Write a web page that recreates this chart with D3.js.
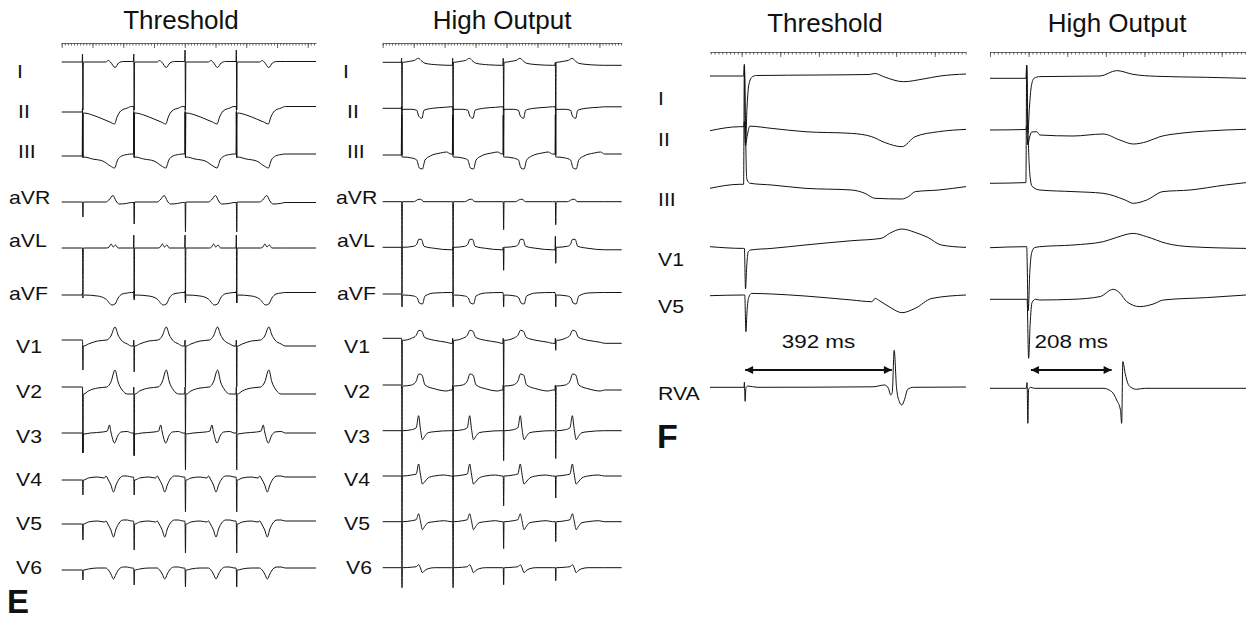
<!DOCTYPE html>
<html>
<head>
<meta charset="utf-8">
<script src="https://cdn.jsdelivr.net/npm/d3@7"></script>
<style>
    body { margin: 0; background: #fff; }
    text { font-family: "Liberation Sans", Arial, sans-serif; fill: #111; }
</style>
</head>
<body>
<svg id="fig" width="1246" height="620"></svg>
<script>
// ---------- data (time in ms, amplitude in mm at 10 mm/mV) ----------

var eLeads = ["I", "II", "III", "aVR", "aVL", "aVF", "V1", "V2", "V3", "V4", "V5", "V6"]

// panel E, threshold: pacing spikes and one paced beat per lead (dt after spike, amp)
var eThrSpikes = [200, 700, 1200, 1700]
var eThrBeat = [
    [[15, 0], [230, 0], [255, 1.5], [275, 0], [320, -5.5], [355, -1], [400, 0.5], [480, 0.5]],
    [[15, -1], [100, -3], [200, -7], [270, -10], [315, -12], [340, -5], [375, 1], [440, 4], [480, 5.5]],
    [[15, -1], [100, -3], [200, -5], [275, -10], [315, -12], [345, -4], [385, 0], [440, 1.5], [480, 2]],
    [[15, 0], [230, 0], [260, 2], [300, 6.5], [330, 1], [360, -2], [430, -1.5], [480, -0.5]],
    [[15, 0], [240, 0], [262, 1], [282, 4], [302, 1], [325, 3], [350, 0], [480, 0]],
    [[15, 0], [150, -1], [230, -4], [290, -10], [320, -9], [350, -3], [390, 1], [440, 2], [480, 2.5]],
    [[15, -6], [60, -4], [150, -1], [240, 0], [280, 4], [320, 13], [350, 5], [380, 0], [440, -4], [480, -6]],
    [[15, -7], [60, -4], [150, -1], [240, 0], [280, 5], [320, 17], [350, 5], [390, -3], [440, -7], [480, -7]],
    [[15, -1], [80, 0], [200, 1], [245, 2], [265, 8], [282, 0], [315, -10], [345, -3], [380, 1], [440, 1.5], [480, 0]],
    [[15, 0], [60, 2], [150, 3], [215, 2], [232, 4], [250, 1], [280, -5], [305, -12], [330, -5], [360, 1], [400, 4], [440, 4], [480, 3]],
    [[15, 0], [60, 2], [150, 3], [215, 2], [232, 3], [250, 0], [280, -6], [305, -13], [330, -5], [360, 1], [400, 4], [440, 4], [480, 3]],
    [[15, 0], [60, 1], [150, 2], [230, 2], [255, 0], [280, -4], [305, -9], [330, -4], [360, 1], [400, 3], [440, 3], [480, 2]]
]
var eThrSpikeUp = [
    [8, 8, 12, 12], [4, 4, 4, 4], [44, 44, 44, 44], [0, 0, 0, 0], [0, 13, 13, 13], [2, 4, 4, 4],
    [0, 0, 0, 0], [0, 0, 0, 0], [0, 0, 0, 0], [0, 0, 0, 0], [0, 0, 0, 0], [0, 0, 0, 0]
]
var eThrSpikeDown = [
    [-48, -48, -48, -48], [-45, -45, -45, -45], [-2, -2, -2, -2], [-15, -22, -30, -30],
    [-46, -50, -55, -55], [-3, -5, -8, -8], [-30, -32, -47, -47], [-66, -68, -47, -46],
    [-20, -23, -37, -37], [-15, -15, -32, -32], [-16, -26, -29, -29], [-10, -15, -17, -17]
]

// panel E, high output
var eHoSpikes = [180, 675, 1165, 1670]
var eHoBeat = [
    [[15, 0], [80, 1], [130, 2], [165, 4], [200, 1], [230, -1], [350, -2.5], [480, -3]],
    [[15, -1], [100, -1], [150, -2], [170, -8], [200, -10], [220, -2], [300, 0], [420, 1], [480, 1.5]],
    [[15, -2], [100, -3], [150, -5], [175, -13], [205, -14], [230, -5], [280, -1], [380, 2], [440, 3], [480, 1]],
    [[15, 0], [120, 0], [160, 2], [185, 2.5], [220, 0], [480, 0]],
    [[15, 0], [120, 1], [150, 3], [170, 8], [195, 8], [220, 1], [320, -1], [480, -2.5]],
    [[15, -1], [120, -2], [155, -4], [175, -9], [205, -10], [230, -2], [320, 1], [480, 1.5]],
    [[15, -2], [100, 0], [145, 3], [170, 8], [200, 7], [225, 1], [320, -2], [440, -4], [480, -5]],
    [[15, -1], [100, 0], [145, 4], [170, 11], [200, 10], [230, 0], [330, -4], [440, -6], [480, -5]],
    [[15, 0], [100, 1], [145, 3], [168, 15], [185, 2], [205, -9], [225, -6], [260, -2], [320, -1], [480, 0]],
    [[15, 0], [100, 1], [145, 2], [168, 12], [185, 2], [205, -8], [225, -6], [260, -2], [320, 0], [420, 1], [480, 0]],
    [[15, 0], [100, 1], [145, 2], [168, 8], [185, 1], [205, -8], [225, -5], [260, -1], [320, 0], [420, 1], [480, 0]],
    [[15, 0], [100, 0.5], [145, 1], [168, 3], [185, 0], [205, -5], [225, -3], [260, -1], [320, 0], [480, 0]]
]
var eHoSpikeUp = [
    [4, 4, 4, 0], [2, 2, 2, 2], [40, 40, 40, 40], [0, 0, 0, 0], [0, 0, 0, 11], [0, 0, 0, 0],
    [0, 0, 0, 0], [0, 0, 0, 0], [0, 0, 0, 0], [0, 0, 0, 0], [0, 0, 0, 0], [0, 0, 0, 0]
]
var eHoSpikeDown = [
    [-48, -48, -48, -48], [-47, -47, -47, -47], [-2, -2, -2, -2], [-46, -46, -28, -23],
    [-47, -47, -23, -16], [-13, -13, -13, -13], [-47, -47, -47, -12], [-46, -46, -46, -45],
    [-46, -46, -30, -28], [-46, -46, -30, -22], [-46, -46, -27, -20], [-20, -20, -17, -13]
]

// panel F: single paced beat, leads I II III V1 V5 and the RV apex electrogram
var fLeads = ["I", "II", "III", "V1", "V5", "RVA"]
var fThrTraces = [
    [[-82, 0], [5, 0], [7, 11], [10, -67], [14, -30], [19, -8], [27, -1], [38, 0.5], [200, 1], [330, 1.5], [345, 2.5], [370, -1], [419, -5.7], [470, -3], [514, 0], [581, 2]],
    [[-82, 0], [-5, 4], [5, 4], [7, 9], [10, -15], [14, -6], [21, 4.5], [78, 2.3], [164, -1], [285, -2.7], [337, -6], [372, -12], [415, -16], [449, -6], [510, -1], [581, 1.3]],
    [[-82, 0], [-5, 4], [5, 4], [7, 124], [10, 60], [13, 10], [18, 6], [22, 5], [78, 3.3], [164, 0], [285, -1.7], [319, -5], [345, -10], [415, -10.7], [432, -8.3], [450, -3.3], [510, -1.7], [581, 1.7]],
    [[-82, 0], [5, -1.7], [7, -1.7], [10, -42], [13, -20], [17, -5], [23, -3.3], [78, -1.7], [164, 1.7], [285, 6], [361, 8.3], [383, 13.3], [415, 17.7], [449, 14.3], [482, 9.3], [517, 1.7], [581, -0.7]],
    [[-82, 0], [5, 0.7], [8, 0.7], [11, -36], [14, -15], [18, -2], [26, 2.3], [78, 1.7], [164, -0.3], [285, -4.3], [337, -6], [346, -2.7], [354, -4.3], [389, -12.7], [415, -17], [449, -12.7], [493, -2.7], [581, 0.7]],
    [[-82, 0], [6, 0], [7, 5], [9, -14], [11, -0.5], [16, 1.3], [40, 0], [340, 0.5], [370, 2.3], [380, -1], [386, -7.7], [390, -5], [395, 37], [401, 0], [408, -14], [415, -17.7], [422, -12], [430, -2], [445, 0], [581, 0.3]]
]
var fHoTraces = [
    [[-100, 0], [-7, 0], [-5, 13], [-2, -55], [2, -30], [7, -8], [14, 0], [29, 1.7], [185, 2.3], [228, 7.7], [270, 4], [331, 2], [460, 1], [563, 0]],
    [[-100, 0], [-7, 0.5], [-5, 4], [-2, -15], [2, -8], [8, -2], [21, -1.7], [29, -5], [115, -6], [193, -4], [236, -10], [271, -14], [306, -11.7], [340, -6.7], [392, -3.3], [461, -1], [563, 0.7]],
    [[-100, 0], [-7, 0.7], [-5, 118], [-2, 60], [3, 10], [9, -3], [29, -6.7], [115, -8.3], [193, -10], [250, -16.7], [271, -20], [306, -16.7], [348, -8.3], [418, -6.7], [510, -1.7], [563, 0.7]],
    [[-100, 0], [-7, 1], [-5, 1], [-1, -63], [3, -25], [8, -5], [15, 0], [29, 1], [115, 2.7], [193, 6], [228, 10.3], [271, 14.3], [306, 11], [357, 4.3], [418, 1], [563, -0.7]],
    [[-100, 0], [-7, 0], [-4, 0], [0, -59], [4, -25], [9, -3], [18, 0], [29, -0.7], [115, 0], [185, 2.7], [219, 10], [237, 6], [254, -2.3], [288, -7.3], [323, -4.7], [349, -0.7], [461, 1.7], [563, 4.3]],
    [[-100, 0], [-6, 0], [-4, 5.7], [-2, -35], [0, -1], [5, 1], [15, 0], [193, 0], [215, -3.3], [228, -11.7], [238, -22], [241, -35], [244, 26.7], [250, 15], [258, 4], [267, 0.5], [280, -1], [300, 0], [563, 0]]
]
// stimulus-to-RVA intervals
var fThrArrow = [9, 389], fThrLabel = "392 ms"
var fHoArrow = [6, 215], fHoLabel = "208 ms"

var titles = ["Threshold", "High Output"]

// ---------- layout ----------
var svg = d3.select("#fig")

var panels = {
    eThr: { x0: 61.7, x1: 316, dom: [0, 2480], ruler: 43, title: [181, 29],
            base: [62, 112, 156, 202, 248, 295, 340, 387, 433, 480, 524, 570],
            labX: [17, 18, 18, 9, 9, 9, 16, 16, 16, 16, 16, 16] },
    eHo:  { x0: 382.7, x1: 621.7, dom: [0, 2316], ruler: 43, title: [502, 29],
            base: [62.3, 108.3, 155, 201.7, 247.3, 294, 338.3, 385, 430.7, 476, 521.7, 567.7],
            labX: [343, 347, 347, 336, 337, 337, 344, 344, 344, 344, 344, 346] },
    fThr: { x0: 710, x1: 966, dom: [-82, 581], ruler: 52, title: [825, 32],
            base: [76, 130.7, 188.3, 246.7, 295.7, 387.3] },
    fHo:  { x0: 990, x1: 1246, dom: [-100, 563], ruler: 52, title: [1117, 32],
            base: [78.3, 130, 183.3, 247.7, 299.3, 388.3] }
}
var eLabY = [78, 118, 158, 204, 247, 300, 353, 398, 443, 486, 530, 574]
var fLabY = [105, 146, 206, 266, 313, 400]

var makeX = p => d3.scaleLinear().domain(p.dom).range([p.x0, p.x1])
var makeY = b => d3.scaleLinear().domain([-10, 10]).range([b + 10, b - 10])

var drawRuler = function (p, x, minor, major) {
    var g = svg.append("g").attr("transform", `translate(0,${p.ruler})`).attr("color", "#444")
    var d = x.domain()
    var minorT = d3.range(Math.ceil(d[0] / minor) * minor, d[1], minor)
    var majorT = d3.range(Math.ceil(d[0] / major) * major, d[1], major)
    g.append("g").call(d3.axisBottom(x).tickValues(minorT).tickSize(2.5).tickSizeOuter(0).tickFormat(""))
    g.append("g").call(d3.axisBottom(x).tickValues(majorT).tickSize(5).tickSizeOuter(0).tickFormat(""))
        .select(".domain").remove()
    g.selectAll("line, path").attr("stroke-width", 0.8)
}

var drawTitle = function (p, txt) {
    svg.append("text").attr("x", p.title[0]).attr("y", p.title[1])
        .attr("text-anchor", "middle").attr("font-size", 26).text(txt)
}

var drawLabel = function (x, y, txt) {
    svg.append("text").attr("transform", `translate(${x},${y}) scale(1.18,1)`)
        .attr("font-size", 18).text(txt)
}

var lineMaker = (x, y) => d3.line().curve(d3.curveMonotoneX)
    .x(d => x(d[0])).y(d => y(d[1]))

// expands one beat template into a paced strip
var pacedStrip = function (spikes, beat, up, down, end) {
    var pts = [[0, 0]], prev = 0
    spikes.forEach(function (s, i) {
        pts.push([s, prev], [s + 3, up[i]], [s + 7, down[i]], [s + 11, beat[0][1]])
        beat.forEach(b => pts.push([s + b[0], b[1]]))
        prev = beat[beat.length - 1][1]
    })
    pts.push([end, prev])
    return pts
}

var drawE = function (p, spikes, beats, up, down, title) {
    var x = makeX(p)
    drawRuler(p, x, 30, 300)
    drawTitle(p, title)
    eLeads.forEach(function (lead, i) {
        var y = makeY(p.base[i])
        svg.append("path").attr("fill", "none").attr("stroke", "#111").attr("stroke-width", 1)
            .attr("d", lineMaker(x, y)(pacedStrip(spikes, beats[i], up[i], down[i], p.dom[1])))
        drawLabel(p.labX[i], eLabY[i], lead)
    })
}

var drawF = function (p, traces, arrow, label, title, withLabels) {
    var x = makeX(p)
    drawRuler(p, x, 10, 100)
    drawTitle(p, title)
    traces.forEach(function (tr, i) {
        var y = makeY(p.base[i])
        svg.append("path").attr("fill", "none").attr("stroke", "#111").attr("stroke-width", 1)
            .attr("d", lineMaker(x, y)(tr))
        if (withLabels) drawLabel(658, fLabY[i], fLeads[i])
    })
    svg.append("line")
        .attr("x1", x(arrow[0])).attr("x2", x(arrow[1]))
        .attr("y1", 370).attr("y2", 370)
        .attr("stroke", "#111").attr("stroke-width", 2)
        .attr("marker-start", "url(#head)").attr("marker-end", "url(#head)")
    svg.append("text")
        .attr("transform", `translate(${(x(arrow[0]) + x(arrow[1])) / 2},348) scale(1.18,1)`)
        .attr("text-anchor", "middle").attr("font-size", 19).text(label)
}

svg.append("defs").append("marker").attr("id", "head")
    .attr("viewBox", "0 0 10 10").attr("refX", 10).attr("refY", 5)
    .attr("markerUnits", "userSpaceOnUse").attr("markerWidth", 10).attr("markerHeight", 8)
    .attr("orient", "auto-start-reverse")
    .append("path").attr("d", "M0,0 L10,5 L0,10 z").attr("fill", "#111")

drawE(panels.eThr, eThrSpikes, eThrBeat, eThrSpikeUp, eThrSpikeDown, titles[0])
drawE(panels.eHo, eHoSpikes, eHoBeat, eHoSpikeUp, eHoSpikeDown, titles[1])
drawF(panels.fThr, fThrTraces, fThrArrow, fThrLabel, titles[0], true)
drawF(panels.fHo, fHoTraces, fHoArrow, fHoLabel, titles[1], false)

// panel letters
svg.append("text").attr("x", 7).attr("y", 613).attr("font-size", 33).attr("font-weight", "bold").text("E")
svg.append("text").attr("x", 657).attr("y", 448).attr("font-size", 34).attr("font-weight", "bold").text("F")
</script>
</body>
</html>
